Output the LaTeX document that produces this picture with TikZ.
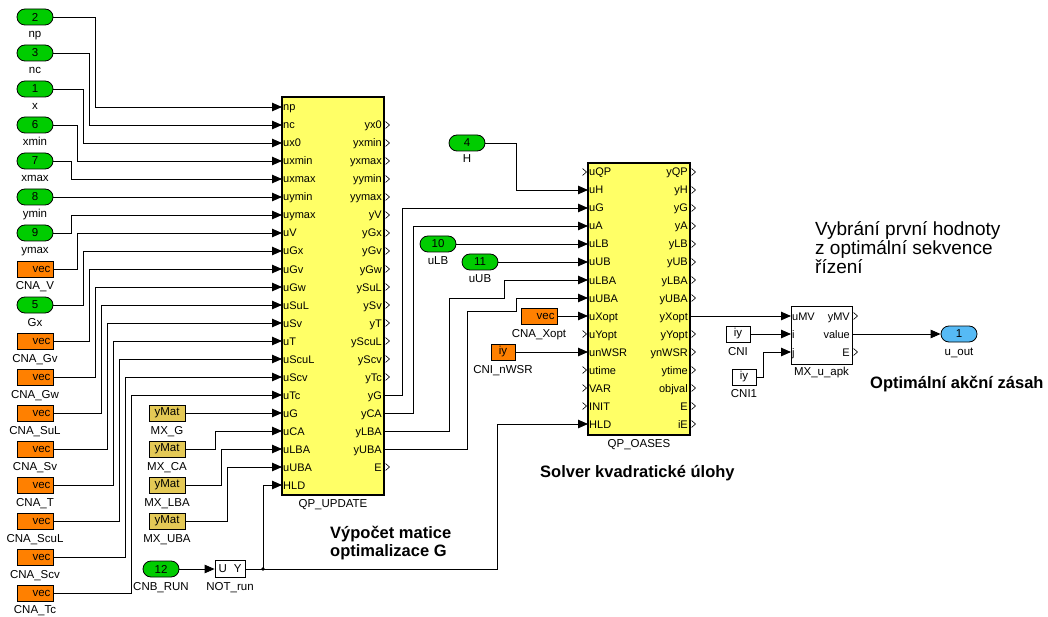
\documentclass[tikz,border=0pt]{standalone}
\usepackage{fontspec}
\setmainfont{Liberation Sans}
\usetikzlibrary{arrows.meta}

\definecolor{srcgreen}{RGB}{0,204,0}
\definecolor{cnaorange}{RGB}{255,128,0}
\definecolor{blkyellow}{RGB}{255,255,102}
\definecolor{matkhaki}{RGB}{228,201,86}
\definecolor{outblue}{RGB}{86,186,245}

\newcommand{\lblfont}{\fontsize{11.5}{13}\selectfont}
\newcommand{\portfont}{\fontsize{11}{13}\selectfont}
\newcommand{\ttlfont}{\fontsize{16.5}{17.5}\selectfont\bfseries}
\newcommand{\notefont}{\fontsize{19}{19.2}\selectfont}

\tikzset{
  wire/.style={line width=0.9pt},
  sig/.style={wire, -{Triangle[length=10pt,width=8.5pt]}},
  chev/.style={line width=0.6pt},
  inpt/.style={draw, line width=0.8pt, fill=srcgreen, rounded corners=8pt, minimum width=36pt, minimum height=16pt, inner sep=0pt, font=\lblfont},
  outpt/.style={inpt, fill=outblue},
  cna/.style={draw, line width=0.8pt, fill=cnaorange, minimum width=36pt, minimum height=16pt, inner sep=0pt, text width=31pt, align=right, font=\lblfont},
  cni/.style={draw, line width=0.8pt, fill=cnaorange, minimum width=24pt, minimum height=16pt, inner sep=0pt, font=\lblfont},
  cnw/.style={cni, fill=white},
  ymat/.style={draw, line width=0.8pt, fill=matkhaki, minimum width=36pt, minimum height=16pt, inner sep=0pt, font=\lblfont},
  blk/.style={draw, line width=1.2pt, fill=blkyellow, inner sep=0pt},
  lbl/.style={inner sep=0pt, anchor=base, font=\lblfont},
  pin/.style={inner sep=0pt, anchor=base west, font=\portfont},
  pout/.style={inner sep=0pt, anchor=base east, font=\portfont},
}

\begin{document}
\begin{tikzpicture}[x=1pt, y=-1pt, line cap=butt, line join=miter]

  %% ════ 左侧输入端口（绿色 / 橙色）════
  \node[inpt] (in2) at (35,17) {2};          \node[lbl] (in2-l) at (35,38) {np};
  \node[inpt] (in3) at (35,53) {3};          \node[lbl] (in3-l) at (35,74) {nc};
  \node[inpt] (in1) at (35,89) {1};          \node[lbl] (in1-l) at (35,110) {x};
  \node[inpt] (in6) at (35,125) {6};         \node[lbl] (in6-l) at (35,146) {xmin};
  \node[inpt] (in7) at (35,161) {7};         \node[lbl] (in7-l) at (35,182) {xmax};
  \node[inpt] (in8) at (35,197) {8};         \node[lbl] (in8-l) at (35,218) {ymin};
  \node[inpt] (in9) at (35,233) {9};         \node[lbl] (in9-l) at (35,254) {ymax};
  \node[cna] (cnaV) at (35,269) {vec};       \node[lbl] (cnaV-l) at (35,290) {CNA\_V};
  \node[inpt] (in5) at (35,305) {5};         \node[lbl] (in5-l) at (35,326) {Gx};
  \node[cna] (cnaGv) at (35,341) {vec};      \node[lbl] (cnaGv-l) at (35,362) {CNA\_Gv};
  \node[cna] (cnaGw) at (35,377) {vec};      \node[lbl] (cnaGw-l) at (35,398) {CNA\_Gw};
  \node[cna] (cnaSuL) at (35,413) {vec};     \node[lbl] (cnaSuL-l) at (35,434) {CNA\_SuL};
  \node[cna] (cnaSv) at (35,449) {vec};      \node[lbl] (cnaSv-l) at (35,470) {CNA\_Sv};
  \node[cna] (cnaT) at (35,485) {vec};       \node[lbl] (cnaT-l) at (35,506) {CNA\_T};
  \node[cna] (cnaScuL) at (35,521) {vec};    \node[lbl] (cnaScuL-l) at (35,542) {CNA\_ScuL};
  \node[cna] (cnaScv) at (35,557) {vec};     \node[lbl] (cnaScv-l) at (35,578) {CNA\_Scv};
  \node[cna] (cnaTc) at (35,593) {vec};      \node[lbl] (cnaTc-l) at (35,613) {CNA\_Tc};

  %% ════ 矩阵常数 yMat ════
  \node[ymat] (mxG) at (167,413) {yMat};     \node[lbl] (mxG-l) at (167,434) {MX\_G};
  \node[ymat] (mxCA) at (167,449) {yMat};    \node[lbl] (mxCA-l) at (167,470) {MX\_CA};
  \node[ymat] (mxLBA) at (167,485) {yMat};   \node[lbl] (mxLBA-l) at (167,506) {MX\_LBA};
  \node[ymat] (mxUBA) at (167,521) {yMat};   \node[lbl] (mxUBA-l) at (167,542) {MX\_UBA};

  \node[inpt] (in12) at (161,569) {12};      \node[lbl] (in12-l) at (161,590) {CNB\_RUN};
  \node[draw, line width=0.8pt, fill=white, minimum width=30pt, minimum height=17pt, inner sep=0pt, font=\lblfont]
    (notrun) at (230,569) {U\hspace{7pt}Y};  \node[lbl] (notrun-l) at (230,590) {NOT\_run};

  %% ════ QP_UPDATE ════
  \node[blk, minimum width=102pt, minimum height=398pt] (upd) at (333,296) {};
  \node[lbl] (upd-l) at (333,507) {QP\_UPDATE};
  \foreach \p [count=\i from 0] in {np,nc,ux0,uxmin,uxmax,uymin,uymax,uV,uGx,uGv,uGw,uSuL,uSv,uT,uScuL,uScv,uTc,uG,uCA,uLBA,uUBA,HLD} {
    \coordinate (upd-\p) at (282,{107+18*\i});
    \node[pin] (upd-\p-t) at ([xshift=1pt,yshift=-4pt]upd-\p) {\p};
  }
  \foreach \p [count=\i from 0] in {yx0,yxmin,yxmax,yymin,yymax,yV,yGx,yGv,yGw,ySuL,ySv,yT,yScuL,yScv,yTc,yG,yCA,yLBA,yUBA,E} {
    \coordinate (upd-\p) at (384,{125+18*\i});
    \node[pout] (upd-\p-t) at ([xshift=-2pt,yshift=-4pt]upd-\p) {\p};
  }
  \foreach \p in {yx0,yxmin,yxmax,yymin,yymax,yV,yGx,yGv,yGw,ySuL,ySv,yT,yScuL,yScv,yTc,E}
    \draw[chev] ([xshift=1.5pt,yshift=3.5pt]upd-\p) -- ++(4,3.5) -- ++(-4,3.5);

  %% ════ QP_OASES ════
  \node[inpt] (in4) at (467,143) {4};        \node[lbl] (in4-l) at (467,163) {H};
  \node[inpt] (in10) at (438,244) {10};      \node[lbl] (in10-l) at (438,265) {uLB};
  \node[inpt] (in11) at (480,262) {11};      \node[lbl] (in11-l) at (480,283) {uUB};
  \node[cna] (cnaXopt) at (539,316) {vec};   \node[lbl] (cnaXopt-l) at (539,337) {CNA\_Xopt};
  \node[cni] (cninWSR) at (503,352) {iy};    \node[lbl] (cninWSR-l) at (503,373) {CNI\_nWSR};

  \node[blk, minimum width=102pt, minimum height=272pt] (qpo) at (639,299) {};
  \node[lbl] (qpo-l) at (639,447) {QP\_OASES};
  \foreach \p [count=\i from 0] in {uQP,uH,uG,uA,uLB,uUB,uLBA,uUBA,uXopt,uYopt,unWSR,utime,VAR,INIT,HLD} {
    \coordinate (qpo-\p) at (588,{172+18*\i});
    \node[pin] (qpo-\p-t) at ([xshift=1pt,yshift=-4pt]qpo-\p) {\p};
  }
  \foreach \p [count=\i from 0] in {yQP,yH,yG,yA,yLB,yUB,yLBA,yUBA,yXopt,yYopt,ynWSR,ytime,objval,E,iE} {
    \coordinate (qpo-\p) at (690,{172+18*\i});
    \node[pout] (qpo-\p-t) at ([xshift=-2pt,yshift=-4pt]qpo-\p) {\p};
  }
  \foreach \p in {uQP,uYopt,utime,VAR,INIT}
    \draw[chev] ([xshift=-5.5pt,yshift=3.5pt]qpo-\p) -- ++(4,3.5) -- ++(-4,3.5);
  \foreach \p in {yQP,yH,yG,yA,yLB,yUB,yLBA,yUBA,yYopt,ynWSR,ytime,objval,E,iE}
    \draw[chev] ([xshift=1.5pt,yshift=3.5pt]qpo-\p) -- ++(4,3.5) -- ++(-4,3.5);

  %% ════ MX_u_apk ════
  \node[cnw] (cni) at (738,334) {iy};        \node[lbl] (cni-l) at (738,355) {CNI};
  \node[cnw] (cni1) at (744,377) {iy};       \node[lbl] (cni1-l) at (744,397) {CNI1};
  \node[draw, line width=1pt, fill=white, minimum width=61pt, minimum height=58pt] (mxu) at (821.5,335) {};
  \node[lbl] (mxu-l) at (821.5,375) {MX\_u\_apk};
  \foreach \p [count=\i from 0] in {uMV,i,j} {
    \coordinate (mxu-\p) at (791,{316+18*\i});
    \node[pin] (mxu-\p-t) at ([xshift=1pt,yshift=-4pt]mxu-\p) {\p};
  }
  \foreach \p [count=\i from 0] in {yMV,value,E} {
    \coordinate (mxu-\p) at (852,{316+18*\i});
    \node[pout] (mxu-\p-t) at ([xshift=-2pt,yshift=-4pt]mxu-\p) {\p};
  }
  \foreach \p in {yMV,E}
    \draw[chev] ([xshift=1.5pt,yshift=3.5pt]mxu-\p) -- ++(4,3.5) -- ++(-4,3.5);

  \node[outpt] (uout) at (959,334) {1};      \node[lbl] (uout-l) at (959,355) {u\_out};

  %% ════ 连线 → QP_UPDATE ════
  \draw[sig] (in2.east) -| (95,0 |- upd-np) -- (upd-np);
  \draw[sig] (in3.east) -| (89,0 |- upd-nc) -- (upd-nc);
  \draw[sig] (in1.east) -| (83,0 |- upd-ux0) -- (upd-ux0);
  \draw[sig] (in6.east) -| (77,0 |- upd-uxmin) -- (upd-uxmin);
  \draw[sig] (in7.east) -| (71,0 |- upd-uxmax) -- (upd-uxmax);
  \draw[sig] (in8.east) -- (upd-uymin);
  \draw[sig] (in9.east) -| (71,0 |- upd-uymax) -- (upd-uymax);
  \draw[sig] (cnaV.east) -| (77,0 |- upd-uV) -- (upd-uV);
  \draw[sig] (in5.east) -| (83,0 |- upd-uGx) -- (upd-uGx);
  \draw[sig] (cnaGv.east) -| (89,0 |- upd-uGv) -- (upd-uGv);
  \draw[sig] (cnaGw.east) -| (95,0 |- upd-uGw) -- (upd-uGw);
  \draw[sig] (cnaSuL.east) -| (101,0 |- upd-uSuL) -- (upd-uSuL);
  \draw[sig] (cnaSv.east) -| (107,0 |- upd-uSv) -- (upd-uSv);
  \draw[sig] (cnaT.east) -| (113,0 |- upd-uT) -- (upd-uT);
  \draw[sig] (cnaScuL.east) -| (119,0 |- upd-uScuL) -- (upd-uScuL);
  \draw[sig] (cnaScv.east) -| (125,0 |- upd-uScv) -- (upd-uScv);
  \draw[sig] (cnaTc.east) -| (131,0 |- upd-uTc) -- (upd-uTc);
  \draw[sig] (mxG.east) -- (upd-uG);
  \draw[sig] (mxCA.east) -| (215,0 |- upd-uCA) -- (upd-uCA);
  \draw[sig] (mxLBA.east) -| (221,0 |- upd-uLBA) -- (upd-uLBA);
  \draw[sig] (mxUBA.east) -| (227,0 |- upd-uUBA) -- (upd-uUBA);

  % RUN -> NOT -> 两个 HLD
  \draw[sig] (in12.east) -- (notrun.west);
  \coordinate (jn) at (263,569);
  \draw[sig] (jn) |- (upd-HLD);
  \fill (jn) circle (1.8pt);
  \draw[sig] (notrun.east) -| (497,0 |- qpo-HLD) -- (qpo-HLD);

  %% ════ 连线 → QP_OASES ════
  \draw[sig] (in4.east) -| (516,0 |- qpo-uH) -- (qpo-uH);
  \draw[sig] (upd-yG) -| (402,0 |- qpo-uG) -- (qpo-uG);
  \draw[sig] (upd-yCA) -| (413,0 |- qpo-uA) -- (qpo-uA);
  \draw[sig] (in10.east) -- (qpo-uLB);
  \draw[sig] (in11.east) -- (qpo-uUB);
  \draw[sig] (upd-yLBA) -| (449,298) -| (504,0 |- qpo-uLBA) -- (qpo-uLBA);
  \draw[sig] (upd-yUBA) -| (467,311) -| (516,0 |- qpo-uUBA) -- (qpo-uUBA);
  \draw[sig] (cnaXopt.east) -- (qpo-uXopt);
  \draw[sig] (cninWSR.east) -- (qpo-unWSR);

  %% ════ 连线 → MX_u_apk → u_out ════
  \draw[sig] (qpo-yXopt) -- (mxu-uMV);
  \draw[sig] (cni.east) -- (mxu-i);
  \draw[sig] (cni1.east) -| (763,0 |- mxu-j) -- (mxu-j);
  \draw[sig] (mxu-value) -- (uout.west);

  %% ════ 注释文字 ════
  \node[inner sep=0pt, anchor=north west, align=left, font=\notefont] (note) at (815,221)
    {Vybrání první hodnoty\\z optimální sekvence\\řízení};
  \node[inner sep=0pt, anchor=base west, font=\ttlfont] (ttl-apk) at (870,388) {Optimální akční zásah};
  \node[inner sep=0pt, anchor=base west, font=\ttlfont] (ttl-qpo) at (540,477) {Solver kvadratické úlohy};
  \node[inner sep=0pt, anchor=north west, align=left, font=\ttlfont] (ttl-upd) at (330,526)
    {Výpočet matice\\optimalizace G};

  % 钉死画布
  \pgfresetboundingbox
  \path[use as bounding box] (0,0) rectangle (1048,617);
\end{tikzpicture}
\end{document}
